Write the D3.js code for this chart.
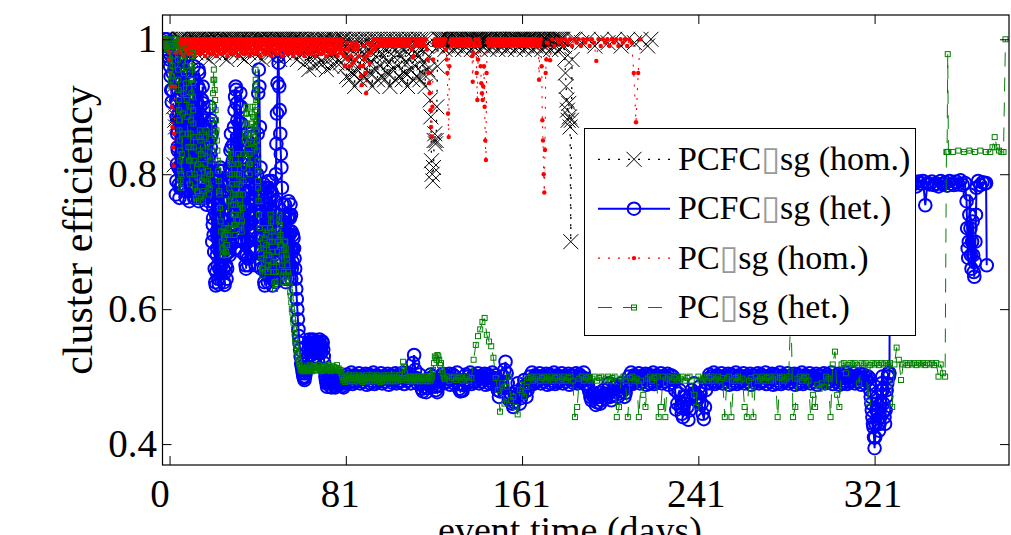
<!DOCTYPE html>
<html>
<head>
<meta charset="utf-8">
<script src="https://cdn.jsdelivr.net/npm/d3@7"></script>
<style>
  body { margin: 0; background: #fff; }
  text { font-family: "Liberation Serif", "Times New Roman", serif; }
</style>
</head>
<body>
<svg id="chart" width="1011" height="535"></svg>
<script>
// tick positions (days) and the labels printed under them
const xTickValues = [1, 81, 161, 241, 321]
const xTickLabels = ['0', '81', '161', '241', '321']
const yTickValues = [0.4, 0.6, 0.8, 1]
const legendLabels = ['PCFC\u25AFsg (hom.)', 'PCFC\u25AFsg (het.)', 'PC\u25AFsg (hom.)', 'PC\u25AFsg (het.)']

// each series is a list of runs: [first day, days between events, efficiency values]
const pcfcHom = [
  [-1.4, 0.3, [1,1,1,1,.998,.995,.99,.995,1,.99,.985,.975,.96,.93,.9,.814,.88,.87,.885,.875,.89,.95,.99,1]],
  [5.8, 0.4, [1,1,.99,1,.98,1,.995,1,.975,1,1,.985,1,.97,1,.99,1,1,.98,.995, 1,1,.99,1,.98,1,.995,1,.975,1,1,.985,1,.97,1,.99,1,1,.98,.995, 1,1,.99,1,.98,1,.995,1,.975,1,1,.985,1,.97,1,.99,1,1,.98,.995, 1,1,.99,1,.98,1,.995,1,.975,1,1,.985,1,.97,1,.99,1,1,.98,.995, 1,1,.99,1,.98,1,.995,1,.975,1,1,.985,1,.97,1,.99,1,1,.98,.995, 1,1,.99,1,.98,1,.995,1,.975,1,1,.985,1,.97,1,.99,1,1,.98,.995, 1,1,.99,1,.98,1,.995,1,.975,1,1,.985,1,.97,1,.99,1,1,.98,.995]],
  [61.8, 0.4, [1,.99,.965,1,.985,1,.955,.99,1,.97,1,.98,.96,1,.995,1,.975,1,.965,.99, 1,.99,.965,1,.985,1,.955,.99,1,.97,1,.98,.96,1,.995,1,.975,1,.965,.99, 1,.99,.965,1,.985,1]],
  [80.2, 0.4, [1,.96,.99,.945,1,.975,.94,1,.985,.95,1,.965,.93,.99,1,.955,.975,1,.94,.985, 1,.96,.99,.945,1,.975,.94,1,.985,.95,1,.965,.93,.99,1,.955,.975,1,.94,.985, 1,.96,.99,.945,1,.975,.94,1,.985,.95,1,.965,.93,.99,1,.955,.975,1,.94,.985, 1,.96,.99,.945,1,.975,.94,1,.985,.95,1,.965,.93,.99,1,.955,.975,1,.94,.985, 1,.96,.99,.945,1,.975,.94,1,.985,.95,1,.965,.93,.99,1,.955,.975]],
  [119, 0.3, [.95,.91,.885,.82,.8,.79,.81,.85,.86,.845,.85,.9,.96,.99,1]],
  [123.6, 0.4, [1,1,.99,1,.995,1,.985,1,1,.99, 1,1,.99,1,.995,1,.985,1,1,.99, 1,1,.99,1,.995,1,.985,1,1,.99, 1,1,.99,1,.995,1,.985,1,1,.99, 1,1,.99,1,.995,1,.985,1,1,.99, 1,1,.99,1,.995,1,.985,1,1,.99, 1,1,.99,1,.995,1,.985,1,1,.99, 1,1,.99,1,.995,1,.985,1,1,.99, 1,1,.99,1,.995,1,.985,1,1,.99, 1,1,.99,1,.995,1,.985,1,1,.99, 1,1,.99,1,.995,1,.985,1,1,.99, 1,1,.99,1,.995,1,.985,1,1,.99, 1,1,.99,1,.995,1,.985,1,1,.99, 1,1,.99,1,.995,1,.985,1,1,.99, 1,.99]],
  [180.4, 0.3, [.972,.95,.93,.91,.895,.88,.905,.885,.87,.7,.88,.97,1]],
  [185, 3, [1,.995,1,.99,1,.995,1,.99,1,.995,1,.99]],
  [219.5, 1, [1]]
]

const pcfcHet = [
  [-1.0, 0.25, [1,.995,.99,1,.985,.975,.99,.98,.97,.96]],
  [1.5, 0.25, [.945,.925,.907,.925,.95,.97,.99,.98,.96]],
  [3.75, 0.25, [.935,.91,.885,.86,.835,.81,.785,.765,.78,.805,.83,.855,.88,.905,.93,.955,.975,.95,.925,.9,.875,.85,.825,.8,.775,.76]],
  [3.875, 0.25, [.77,.79,.815,.84,.865,.89,.915,.94,.96,.97,.95,.925,.9,.875,.85,.825,.8,.775,.765,.79,.815,.84,.865,.89,.915,.94]],
  [10.25, 0.25, [.785,.81,.835,.86,.885,.91,.935,.96,.94,.915,.89,.865,.84,.815,.79,.765,.76,.785,.81,.835,.86,.885,.91,.93,.905,.88,.855,.83]],
  [10.375, 0.25, [.92,.895,.87,.845,.82,.795,.775,.765,.78,.805,.83,.855,.88,.905,.93,.955,.95,.925,.9,.875,.85,.825,.8,.775,.765,.79,.815,.84]],
  [17.25, 0.25, [.805,.78,.755,.775,.8,.825,.85,.875,.9,.87,.84,.81]],
  [17.375, 0.25, [.87,.845,.82,.795,.77,.76,.78,.805,.83,.855,.88,.86]],
  [20.25, 0.25, [.785,.76,.735,.71,.685,.66,.64,.635,.655,.68,.705,.73,.755,.78,.805,.81,.785,.76,.735,.71,.685,.66,.64,.636,.655,.68,.705,.73,.71,.69]],
  [20.375, 0.25, [.7,.725,.75,.775,.8,.79,.765,.74,.715,.69,.665,.645,.637,.66,.685,.71,.735,.76,.785,.805,.79,.765,.74,.715,.69,.665,.645,.66,.685,.71]],
  [27.75, 0.25, [.7,.685,.68,.695,.72,.745,.77,.795,.82,.845,.87,.895,.915,.93,.925,.905,.88,.855,.83,.805,.78,.755,.73,.705,.685,.7,.725,.75,.73,.7]],
  [27.875, 0.25, [.76,.785,.81,.835,.86,.84,.815,.79,.765,.74,.715,.69,.7,.725,.75,.775,.8,.825,.85,.875,.9,.92,.9,.875,.85,.825,.8,.775,.75,.725]],
  [35.25, 0.25, [.68,.665,.66,.68,.705,.73,.755,.78,.805,.83,.855,.86,.835,.81,.785,.76,.735,.71,.685,.665,.69]],
  [35.375, 0.25, [.8,.775,.75,.725,.7,.675,.665,.69,.715,.74,.765,.79,.815,.84,.855,.83,.805,.78,.755,.73,.705]],
  [40.5, 0.25, [.74,.8,.86,.92,.955,.93,.87,.81]],
  [42.5, 0.25, [.78,.755,.73,.705,.68,.66,.64,.635,.655,.68,.705,.73,.755,.78,.79,.765,.74,.715,.69,.665,.645,.635,.655,.68,.705,.73,.76]],
  [42.625, 0.25, [.66,.685,.71,.735,.76,.785,.78,.755,.73,.705,.68,.655,.64,.65,.675,.7,.725,.75,.775,.79,.77,.745,.72,.695,.67,.65,.64]],
  [49.25, 0.25, [.8,.845,.89,.935,.975,.965,.93,.895,.86,.83,.81,.78]],
  [52.25, 0.25, [.755,.73,.705,.68,.66,.645,.64,.66,.685,.71,.735,.76,.74,.715,.69,.665,.645,.66,.685,.71]],
  [52.375, 0.25, [.66,.685,.71,.735,.755,.74,.715,.69,.665,.645,.66,.685,.71,.735,.755,.74,.715,.69,.67,.69]],
  [57.25, 0.25, [.705,.69,.675,.66,.645,.63,.615,.6,.585,.57,.56,.55,.54,.53,.52,.515,.51,.505,.5,.498,.495,.5,.505,.51]],
  [63.25, 0.25, [.51,.52,.53,.54,.55,.555,.548,.54,.532,.545,.553,.555,.55,.54,.53,.525,.535,.548,.552,.545,.535,.54,.55,.555,.548,.54,.535,.545,.552,.55,.54,.53,.52,.51,.5,.495,.49,.485,.49,.495,.5,.505,.5,.49,.485,.484,.49,.495,.5,.498,.49,.486,.484,.49,.497,.5,.495,.49,.488,.492,.5,.495,.49]],
  [79, 0.5, [.49,.486,.484,.49,.497,.503,.49,.5,.494,.506,.489,.498,.502,.492,.5,.495,.505,.49,.497,.501]],
  [89, 0.5, [.493,.499,.504,.488,.497,.503,.49,.5,.494,.506,.489,.498,.502,.492,.5,.495,.505,.49,.497,.501]],
  [99, 0.5, [.493,.499,.504,.488,.496,.502,.491,.5,.495,.505,.49,.498,.503,.492,.5,.494,.506,.489,.497,.501]],
  [109, 0.5, [.494,.5,.504,.49,.497,.52,.532,.51,.498,.49,.495,.503,.49,.482,.478,.485,.49,.477,.483,.49]],
  [119, 0.5, [.497,.503,.49,.5,.494,.485,.48,.477,.486,.495,.5,.494,.504,.49,.497,.501,.493,.499,.504,.488]],
  [129, 0.5, [.497,.503,.49,.5,.494,.506,.489,.482,.478,.48,.479,.488,.495,.503,.49,.5,.494,.506,.489,.498]],
  [139, 0.5, [.502,.492,.5,.495,.505,.49,.497,.501,.493,.499,.504,.488,.497,.503,.49,.5,.494,.506,.489,.498]],
  [149, 0.5, [.502,.49,.48,.47,.478,.485,.49,.5,.51,.522,.505,.49,.466,.47,.475,.46,.455,.462,.47,.478]],
  [159, 0.5, [.49,.475,.46,.468,.475,.485,.495,.478,.47,.48,.488,.5,.494,.506,.489,.498,.502,.492,.5,.495]],
  [169, 0.5, [.505,.49,.497,.501,.493,.499,.504,.488,.497,.503,.49,.5,.494,.506,.489,.498,.502,.492,.5,.495]],
  [179, 0.5, [.505,.49,.497,.501,.493,.499,.504,.488,.496,.502,.491,.5,.495,.505,.49,.498,.503,.492,.5,.494]],
  [189, 0.5, [.506,.489,.497,.49,.485,.478,.47,.465,.472,.475,.468,.458,.462,.47,.476,.46,.465,.472,.48,.475]],
  [199, 0.5, [.468,.474,.482,.49,.47,.465,.472,.478,.484,.487,.478,.47,.475,.485,.49,.478,.485,.47,.476,.485]],
  [209, 0.5, [.49,.5,.494,.506,.489,.498,.502,.492,.5,.495,.505,.49,.497,.501,.493,.499,.504,.488,.497,.503]],
  [219, 0.5, [.49,.5,.494,.506,.489,.498,.502,.492,.5,.495,.505,.49,.497,.501,.493,.499,.504,.488,.496,.502]],
  [229, 0.5, [.491,.5,.495,.48,.451,.46,.475,.48,.455,.445,.44,.46,.47,.465,.455,.436,.45,.47,.48,.475]],
  [239, 0.5, [.49,.475,.468,.465,.47,.485,.475,.46,.445,.437,.455,.48,.49,.497,.503,.49,.5,.494,.506,.489]],
  [249, 0.5, [.498,.502,.492,.5,.495,.505,.49,.497,.501,.493,.499,.504,.488,.497,.503,.49,.5,.494,.506,.489]],
  [259, 0.5, [.498,.502,.492,.5,.495,.505,.49,.497,.501,.493,.499,.504,.488,.496,.502,.491,.5,.495,.505,.49]],
  [269, 0.5, [.498,.503,.492,.5,.494,.506,.489,.497,.501,.493,.499,.504,.488,.497,.503,.49,.5,.494,.506,.489]],
  [279, 0.5, [.498,.502,.492,.5,.495,.505,.49,.497,.501,.493,.499,.504,.488,.497,.503,.49,.5,.494,.506,.489]],
  [289, 0.5, [.498,.502,.492,.5,.495,.505,.49,.497,.501,.493,.499,.504,.488,.496,.502,.491,.5,.495,.505,.49]],
  [299, 0.5, [.498,.503,.492,.5,.494,.506,.489,.497,.501,.493,.499,.504,.488,.497,.503,.49,.5,.494,.506,.489]],
  [309, 0.5, [.498,.502,.492,.5,.495,.505,.49,.497,.501,.493,.499,.504,.488,.497,.503,.49,.5,.494,.5,.498]],
  [318.75, 0.25, [.49,.48,.47,.46,.45,.44,.43,.425,.41,.394,.41,.43,.45,.46,.47,.45,.43,.42,.43,.44,.46,.48,.49,.5,.48,.46,.45,.44,.43,.45,.47,.48,.49,.5,.505,.5,.505]],
  [328, 1, [.79,.785,.788,.782,.79,.786,.783,.789,.785,.791,.784,.787,.782,.789,.786,.79,.754,.787,.785,.789,.784,.786,.782,.79,.785,.788,.783,.79,.786,.784,.789,.785,.791,.784,.787]],
  [362.75, 0.25, [.76,.72,.69,.676,.7,.74,.77,.72,.68,.66,.7,.73,.68,.655,.648,.67,.7,.74,.78]],
  [368, 1, [.79,.784,.788,.786]],
  [371.6, 0.3, [.787,.665]]
]

const pcHom = [
  [-1, 0.3, [1,.995,.99,.985,.99,.985,.98,.97,.95,.93,.9,.87,.84,.812,.86,.93,.98,.995,.99,1]],
  [5.0, 0.25, [1,.99,.985,.995,.98,1,.99,.985,.995,.975,1,.99,.985,.995,.98,1,.992,.985,.998,.978, 1,.99,.985,.995,.98,1,.99,.985,.995,.975,1,.99,.985,.995,.98,1,.992,.985,.998,.978, 1,.99,.985,.995,.98,1,.99,.985,.995,.975,1,.99,.985,.995,.98,1,.992,.985,.998,.978, 1,.99,.985,.995,.98,1,.99,.985,.995,.975,1,.99,.985,.995,.98,1,.992,.985,.998,.978, 1,.99,.985,.995,.98,1,.99,.985,.995,.975,1,.99,.985,.995,.98,1,.992,.985,.998,.978, 1,.99,.985,.995,.98,1,.99,.985,.995,.975,1,.99,.985,.995,.98,1,.992,.985,.998,.978, 1,.99,.985,.995,.98,1,.99,.985,.995,.975,1,.99,.985,.995,.98,1,.992,.985,.998,.978, 1,.99,.985,.995,.98,1,.99,.985,.995,.975,1,.99,.985,.995,.98,1,.992,.985,.998,.978, 1,.99,.985,.995,.98,1,.99,.985,.995,.975,1,.99,.985,.995,.98,1,.992,.985,.998,.978, 1,.99,.985,.995,.98,1,.99,.985,.995,.975,1,.99,.985,.995,.98,1,.992,.985,.998,.978, 1,.99,.985,.995,.98,1,.99,.985,.995,.975,1,.99,.985,.995,.98,1,.992,.985,.998,.978, 1,.99,.985,.995,.98,1,.99,.985,.995,.975,1,.99,.985,.995,.98,1,.992,.985,.998,.978, 1,.99,.985,.995,.98,1,.99,.985,.995,.975,1,.99,.985,.995,.98,1,.992,.985,.998,.978, 1,.99,.985,.995,.98,1,.99,.985,.995,.975,1,.99,.985,.995,.98,1,.992,.985,.998,.978, 1,.99,.985,.995,.98,1,.99,.985,.995,.975,1,.99,.985,.995,.98,1,.992,.985,.998,.978]],
  [80.2, 0.4, [.975,.96,.985,.995,.97,.985,.96,.99,.975,.995,.965,.985,.99,.97,.995,.985,.99,.975,.96,.945,.932]],
  [88.6, 0.4, [.96,.99,.97,.95,.92,.975,.995,.98,.965,.99,.98,.995,.985,1,.99,.985,1,.99,.995,1,.99]],
  [97, 0.4, [1,.995,1,.99,1,.995,1,.99,1,.995,1,.99,1,.995,1,.99,1,.995,1,.99,1]],
  [105.4, 0.4, [.995,1,.99,1,.995,1,.99,1,.995,1,.99,1,.995,1]],
  [111, 0.4, [.985,.973,.975,.99,1,.995,1,.99,1,.995,1,.99,1,.995,1,.99,1,.985]],
  [118.2, 0.3, [.97,.95,.935,.92,.895,.87,.856,.9,.97,.995]],
  [121.3, 0.4, [1,.99,1,.995,1,.99,1,.995,1,.99,1,.995,1,.985]],
  [126.8, 0.3, [.97,.95,.89,.855,.96,.995]],
  [128.7, 0.4, [1,.99,1,.995,1,.99,1,.995,1,.99,1,.995,1,.99,1,.995,1,.99,1,.995,1,.99,1,.995,.975]],
  [138.6, 0.3, [.937,.98,.99,.995,1,.99,.95,.91,.97,1,.995,.99,.96,.935,.92,.91,.93,.96,.9,.85,.821,.95,.995]],
  [145.6, 0.4, [1,.99,1,.995,1,.99,1,.995,1,.99,1,.995,1,.99,1,.995,1,.99,1,.995,1,.99,1,.995,1,.99,1,.995,1,.99,1,.995,1,.99,1,.995,1,.99,1,.995,1,.99,1,.995,1,.99,1,.995,1,.99,1,.995,1,.99,1,.995,1,.99]],
  [168.7, 0.3, [.94,.99,.995,1,.96,.88,.85,.8,.773,.836,.95,.97,.995]],
  [172.7, 1, [.995,.969,1,.99,1,.995,1,.99,1,.995,1,.99,1,.995,1,.99,1,.995,1,.99,1,.995,.968,1,.99,1,.995,1,.99,1,.995,1,.99,1,.995,1,.99,1,.995,.95,.877,.95,1]]
]

const pcHet = [
  [-1.4, 0.25, [1,.995,1,.99,1,.985,.995,1,.99,.985,.97,.955,.94,.93,.945,.96,.975,.99,1,.995,.985,1,.99,.995,.985]],
  [4.8, 0.1, [.97,.955,.94,.925,.91,.895,.88,.865,.85,.835,.82,.805,.79,.78]],
  [6.3, 0.25, [.8,.83,.86,.89,.92,.95,.975,.985,.96,.935,.91,.885,.86,.84,.82,.8,.785]],
  [10.4, 0.1, [.82,.84,.86,.88,.9,.92,.94,.96,.98,.975,.955,.935,.915,.895,.875,.855,.84]],
  [12.2, 0.25, [.82,.8,.78,.765,.76,.775,.795,.815,.835,.855,.865,.85,.83,.81,.79,.77,.76,.775,.795,.815,.835,.855,.865,.845,.825,.805,.785,.77,.78,.8,.82,.84]],
  [20.1, 0.2, [.86,.88,.9,.92,.94,.955,.94,.925,.91,.895,.88,.865,.85,.835,.82,.805,.79,.775,.77]],
  [23.9, 0.25, [.75,.73,.715,.7,.69,.68,.69,.705,.72,.71,.695,.685,.68,.695,.71,.72]],
  [27.9, 0.2, [.76,.78,.8,.82,.835,.83,.815,.8,.785,.77,.755,.74,.725,.71,.725,.74,.755,.77,.785,.8,.815,.83,.815,.8,.785,.77,.755,.74,.725,.715,.73,.75,.77,.79,.81,.83,.85]],
  [35.3, 0.2, [.86,.875,.89,.9,.89,.875,.86,.845,.83,.815,.8,.815,.83,.845,.86,.875,.89,.9,.885,.87,.855,.84]],
  [39.7, 0.1, [.87,.9,.93,.955,.94,.925,.91,.895,.88,.865,.85,.835,.82,.805,.79,.78]],
  [41.4, 0.25, [.76,.74,.72,.705,.69,.675,.66,.65,.66,.675,.69,.705,.72,.71,.695,.68,.665,.655,.665]],
  [46.1, 0.25, [.68,.7,.72,.74,.73,.715,.7,.685,.67,.655,.64,.63,.64,.655,.67,.685,.7,.715,.73,.74,.725,.71,.695,.68,.665,.65,.64,.655]],
  [53.0, 0.25, [.69,.7,.7,.69,.68,.675,.665,.655,.65,.64,.635,.625,.62,.61,.6,.595,.585,.58,.57,.565,.555,.55,.545,.54,.535,.53,.525,.522,.518,.515,.512,.51,.508,.51,.512,.51,.508,.51,.513,.51]],
  [63, 0.4, [.51,.515,.508,.513,.517,.51,.514,.508,.512,.516,.51,.514,.509,.513,.517,.51,.512,.508,.515,.511,.514,.509,.516,.51,.513,.517,.51,.514,.508,.512,.516,.51,.514,.509,.513,.517,.51,.512,.508,.51,.505]],
  [79.4, 0.4, [.5,.495,.498,.492,.5,.494,.497,.502,.493,.498,.5,.494,.497,.502,.493,.498,.5,.494,.497,.502, .5,.495,.498,.492,.5,.494,.497,.502,.493,.498,.5,.494,.497,.502,.493,.498,.5,.494,.497,.502, .5,.495,.498,.492,.5,.494,.497,.502,.493,.498,.5,.494,.497,.502,.493,.498,.5,.494,.497,.502, .493,.498,.5,.494,.497,.502,.495,.498]],
  [106.6, 0.4, [.51,.522,.515,.505,.498]],
  [108.6, 0.4, [.494,.497,.5,.494,.497,.5,.493,.498,.5,.494,.497,.5,.494,.497,.5,.493,.498,.5,.494,.497,.5,.494,.497,.5,.493,.498,.5,.494,.497,.5,.51]],
  [121, 0.4, [.52,.53,.528,.525,.532,.53,.525,.517,.52,.51,.505,.5,.497]],
  [126, 1, [
    .497,.5,.494,.498,.5,.495,.498,.5,.494,.497,
    .5,.494,.498,.525,.547,.56,.57,.581,.587,.562,
    .552,.545,.528,.498,.48,.448,.49,.46,.485,.5,
    .465,.47,.455,.444,.48,.495,.47,.485,.498,.5,
    .494,.497,.5,.494,.498,.5,.494,.497,.5,.494,
    .498,.5,.494,.497,.5,.494,.498,.5,.494,.44,
    .455,.497,.5,.494,.498,.5,.494,.497,.5,.494,
    .498,.5,.494,.497,.5,.494,.498,.5,.44,.455,
    .497,.5,.494,.44,.498,.5,.494,.497,.44,.494,
    .473,.455,.497,.5,.494,.498,.5,.44,.455,.5,
    .44,.497,.5,.494,.498,.5,.494,.497,.5,.494,
    .498,.5,.494,.473,.455,.5,.494,.497,.5,.494,
    .498,.5,.494,.497,.5,.494,.498,.44,.497,.5,
    .44,.494,.498,.5,.494,.497,.455,.44,.494,.498,
    .44,.5,.494,.497,.5,.494,.498,.5,.494,.497,
    .5,.44,.498,.5,.494,.497,.5,.6,.44,.455,
    .497,.5,.494,.498,.5,.494,.44,.473,.455,.488,
    .482,.49,.485,.5,.497,.44,.518,.537,.473,.455,
    .518,.52,.505,.517,.52,.518,.52,.517,.49,.52,
    .518,.52,.462,.517,.52,.518,.52,.517,.52,.518,
    .52,.517,.52,.455,.518,.543,.525,.495,.518,.52,
    .517,.52,.518,.52,.517,.52,.518,.52,.517,.52,
    .518,.52,.517,.52,.5,.518,.505,.5]],
  [353.6, 0.3, [.833,.833,.978,.833]],
  [356.5, 2.5, [.833,.835,.833,.835,.833,.835,.833]],
  [373.5, 1, [.833,.84,.855,.84,.835,.833,.833]],
  [380.4, 1, [1]]
]

// turn the runs into [day, value] points in time order
function expand(runs) {
  const out = []
  runs.forEach(([start, step, values]) => values.forEach((v, k) => out.push([start + k * step, v])))
  return out.sort((a, b) => a[0] - b[0])
}

const seriesData = [pcfcHom, pcfcHet, pcHom, pcHet].map(expand)
const seriesColors = ['#000000', '#0000ff', '#ff0000', '#008000']
const seriesMarkers = ['x', 'o', '.', 's']
const lineStyles = [
  { width: 1.3, dash: '2,8' },
  { width: 2, dash: null },
  { width: 1.1, dash: '2,8' },
  { width: 1, dash: '14,11' }
]
// the printed tick labels sit slightly left of their ticks in the original
const xLabelShift = [-10, -6, -1, -2.5, -2]

const plot = { left: 162.5, right: 1009, top: 15, bottom: 465 }
const x = d3.scaleLinear().domain([-2.2, 382]).range([plot.left, plot.right])
const y = d3.scaleLinear().domain([0.369, 1.036]).range([plot.bottom, plot.top])

const svg = d3.select('#chart')
svg.append('rect').attr('width', 1011).attr('height', 535).attr('fill', '#fff')

svg.append('clipPath').attr('id', 'clip')
  .append('rect')
  .attr('x', plot.left).attr('y', plot.top)
  .attr('width', plot.right - plot.left).attr('height', plot.bottom - plot.top)

// draws a marker of the given kind into a selection of <g> elements
function addMarker(g, kind, color) {
  if (kind === 'x') {
    g.append('path').attr('d', 'M-7.5,-7.5L7.5,7.5M-7.5,7.5L7.5,-7.5')
      .attr('stroke', color).attr('stroke-width', 1).attr('fill', 'none')
  } else if (kind === 'o') {
    g.append('circle').attr('r', 6.3)
      .attr('stroke', color).attr('stroke-width', 2).attr('fill', 'none')
  } else if (kind === '.') {
    g.append('circle').attr('r', 2.2).attr('fill', color)
  } else {
    g.append('rect').attr('x', -2.5).attr('y', -2.5).attr('width', 5).attr('height', 5)
      .attr('stroke', color).attr('stroke-width', 1).attr('fill', 'none')
  }
}

const dataGroup = svg.append('g').attr('clip-path', 'url(#clip)')
const line = d3.line().x(d => x(d[0])).y(d => y(d[1]))

seriesData.forEach((data, i) => {
  const g = dataGroup.append('g')
  g.append('path')
    .datum(data)
    .attr('d', line)
    .attr('fill', 'none')
    .attr('stroke', seriesColors[i])
    .attr('stroke-width', lineStyles[i].width)
    .attr('stroke-dasharray', lineStyles[i].dash)
  const marks = g.selectAll('g.mark')
    .data(data)
    .join('g')
    .attr('class', 'mark')
    .attr('transform', d => `translate(${x(d[0])},${y(d[1])})`)
  addMarker(marks, seriesMarkers[i], seriesColors[i])
})

// axes: ticks point inwards on all four sides, labels only bottom and left
const fontFamily = '"Liberation Serif", "Times New Roman", serif'
svg.append('g')
  .attr('transform', `translate(0,${plot.bottom})`)
  .call(d3.axisBottom(x).tickValues(xTickValues).tickFormat((d, i) => xTickLabels[i]).tickSize(-9))
  .call(g => g.select('.domain').remove())
  .attr('font-size', 39).attr('font-family', fontFamily)
  .call(g => g.selectAll('text').attr('y', 42).attr('dy', null).attr('dx', (d, i) => xLabelShift[i]).attr('fill', '#000'))

svg.append('g')
  .attr('transform', `translate(0,${plot.top})`)
  .call(d3.axisTop(x).tickValues(xTickValues).tickFormat('').tickSize(-9))
  .call(g => g.select('.domain').remove())

svg.append('g')
  .attr('transform', `translate(${plot.left},0)`)
  .call(d3.axisLeft(y).tickValues(yTickValues).tickFormat(d3.format('')).tickSize(-9).tickPadding(5.5))
  .call(g => g.select('.domain').remove())
  .attr('font-size', 39).attr('font-family', fontFamily)
  .call(g => g.selectAll('text').attr('fill', '#000'))

svg.append('g')
  .attr('transform', `translate(${plot.right},0)`)
  .call(d3.axisRight(y).tickValues(yTickValues).tickFormat('').tickSize(-9))
  .call(g => g.select('.domain').remove())

svg.append('rect')
  .attr('x', plot.left).attr('y', plot.top)
  .attr('width', plot.right - plot.left).attr('height', plot.bottom - plot.top)
  .attr('fill', 'none').attr('stroke', '#000').attr('stroke-width', 1.2)

// axis titles
svg.append('text')
  .attr('transform', 'translate(92,230) rotate(-90)')
  .attr('text-anchor', 'middle')
  .attr('font-size', 42)
  .text('cluster efficiency')

svg.append('text')
  .attr('x', 570).attr('y', 543)
  .attr('text-anchor', 'middle')
  .attr('font-size', 38)
  .text('event time (days)')

// legend
const legend = svg.append('g')
legend.append('rect')
  .attr('x', 584.5).attr('y', 128.5).attr('width', 331).attr('height', 207)
  .attr('fill', '#fff').attr('stroke', '#000').attr('stroke-width', 1)

legendLabels.forEach((label, i) => {
  const ry = 159.3 + i * 49.4
  legend.append('line')
    .attr('x1', 598).attr('x2', 670).attr('y1', ry).attr('y2', ry)
    .attr('stroke', seriesColors[i])
    .attr('stroke-width', lineStyles[i].width)
    .attr('stroke-dasharray', lineStyles[i].dash)
  const m = legend.append('g').attr('transform', `translate(634,${ry})`)
  addMarker(m, seriesMarkers[i], seriesColors[i])
  const parts = label.split('\u25AF')
  const t = legend.append('text')
    .attr('x', 678).attr('y', ry + 10.5)
    .attr('font-size', 34)
  t.append('tspan').text(parts[0])
  t.append('tspan')
    .attr('font-family', '"Noto Sans CJK SC", "DejaVu Sans"')
    .attr('fill', '#999')
    .text('\u25AF')
  t.append('tspan').text(parts[1])
})
</script>
</body>
</html>
